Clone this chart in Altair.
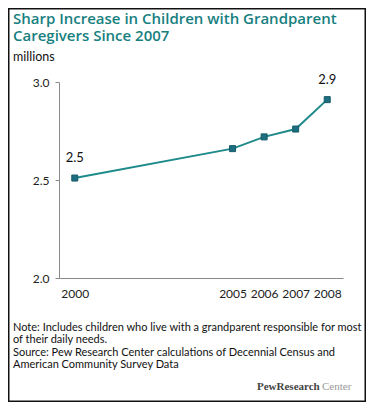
import altair as alt
import pandas as pd

years = [2000, 2005, 2006, 2007, 2008]
values = [2.51, 2.66, 2.72, 2.76, 2.91]
point_labels = ["2.5", "", "", "", "2.9"]
x_ticks = [2000, 2005, 2006, 2007, 2008]
y_ticks = [2.0, 2.5, 3.0]

title_lines = ["Sharp Increase in Children with Grandparent", "Caregivers Since 2007"]
unit_label = "millions"
note_lines = [
    "Note: Includes children who live with a grandparent responsible for most",
    "of their daily needs.",
]
source_lines = [
    "Source: Pew Research Center calculations of Decennial Census and",
    "American Community Survey Data",
]
logo_parts = ["PewResearch", "Center"]

TEAL = "#17807f"
LINE = "#1f8a8a"
FONT = "Lato"

df = pd.DataFrame({"year": years, "value": values, "label": point_labels})

W, H = 284, 196
PL, PT = 51, 74
TOTAL_W, TOTAL_H = 358, 394

x_enc = alt.X("year:Q", scale=alt.Scale(domain=[1999.5, 2008.5], nice=False, zero=False),
              axis=alt.Axis(values=x_ticks, format="d", ticks=False, labelPadding=10,
                            title=None, grid=False, domainColor="#8a8a8a",
                            labelFont=FONT, labelFontSize=12, labelColor="#222"))
y_enc = alt.Y("value:Q", scale=alt.Scale(domain=[2.0, 3.0], nice=False, zero=False),
              axis=alt.Axis(values=y_ticks, format=".1f", tickSize=4, labelPadding=6,
                            title=None, grid=False, domainColor="#8a8a8a", tickColor="#8a8a8a",
                            labelFont=FONT, labelFontSize=12, labelColor="#222"))

base = alt.Chart(df)
line = base.mark_line(color=LINE, strokeWidth=2).encode(x=x_enc, y=y_enc)
pts = base.mark_point(shape="square", size=36, filled=True, color="#1d6f80",
                      stroke="#15596a", strokeWidth=1, opacity=1).encode(x="year:Q", y="value:Q")
labels = base.mark_text(dy=-13, baseline="bottom", font=FONT, fontSize=13, color="#111").encode(
    x="year:Q", y="value:Q", text="label:N")


def txt(s, x, y, **kw):
    d = pd.DataFrame({"t": [s]})
    return alt.Chart(d).mark_text(align="left", baseline="alphabetic", lineBreak="\n", **kw).encode(
        x=alt.value(x), y=alt.value(y), text="t:N")


layers = [line, pts, labels]
layers.append(txt("\n".join(title_lines), -46, -58, font="Open Sans", fontSize=15, fontWeight=600,
                  lineHeight=17, color=TEAL))
layers.append(txt(unit_label, -46, -21.5, font=FONT, fontSize=12.5, color="#111"))
layers.append(txt("\n".join(note_lines), -46, 249, font=FONT, fontSize=11, lineHeight=12, color="#111"))
layers.append(txt("\n".join(source_lines), -46, 274, font=FONT, fontSize=11, lineHeight=12, color="#111"))
layers.append(txt(logo_parts[0], 198, 308, font="Liberation Serif", fontSize=11, fontWeight="bold", color="#444"))
layers.append(txt(logo_parts[1], 263, 308, font="Liberation Serif", fontSize=11, color="#999"))

frame = alt.Chart(pd.DataFrame({"t": [0]})).mark_rect(fill=None, stroke="#111", strokeWidth=1.5).encode(
    x=alt.value(-PL + 0.75), x2=alt.value(TOTAL_W - PL - 0.75),
    y=alt.value(-PT + 0.75), y2=alt.value(TOTAL_H - PT - 0.75))
layers.append(frame)

chart = alt.layer(*layers).properties(
    width=W, height=H,
    autosize=alt.AutoSizeParams(type="none"),
    padding={"left": PL, "top": PT, "right": TOTAL_W - PL - W, "bottom": TOTAL_H - PT - H},
    background="white",
).configure_view(stroke=None)

chart.save("out.html", embed_options={"renderer": "svg", "actions": False})
